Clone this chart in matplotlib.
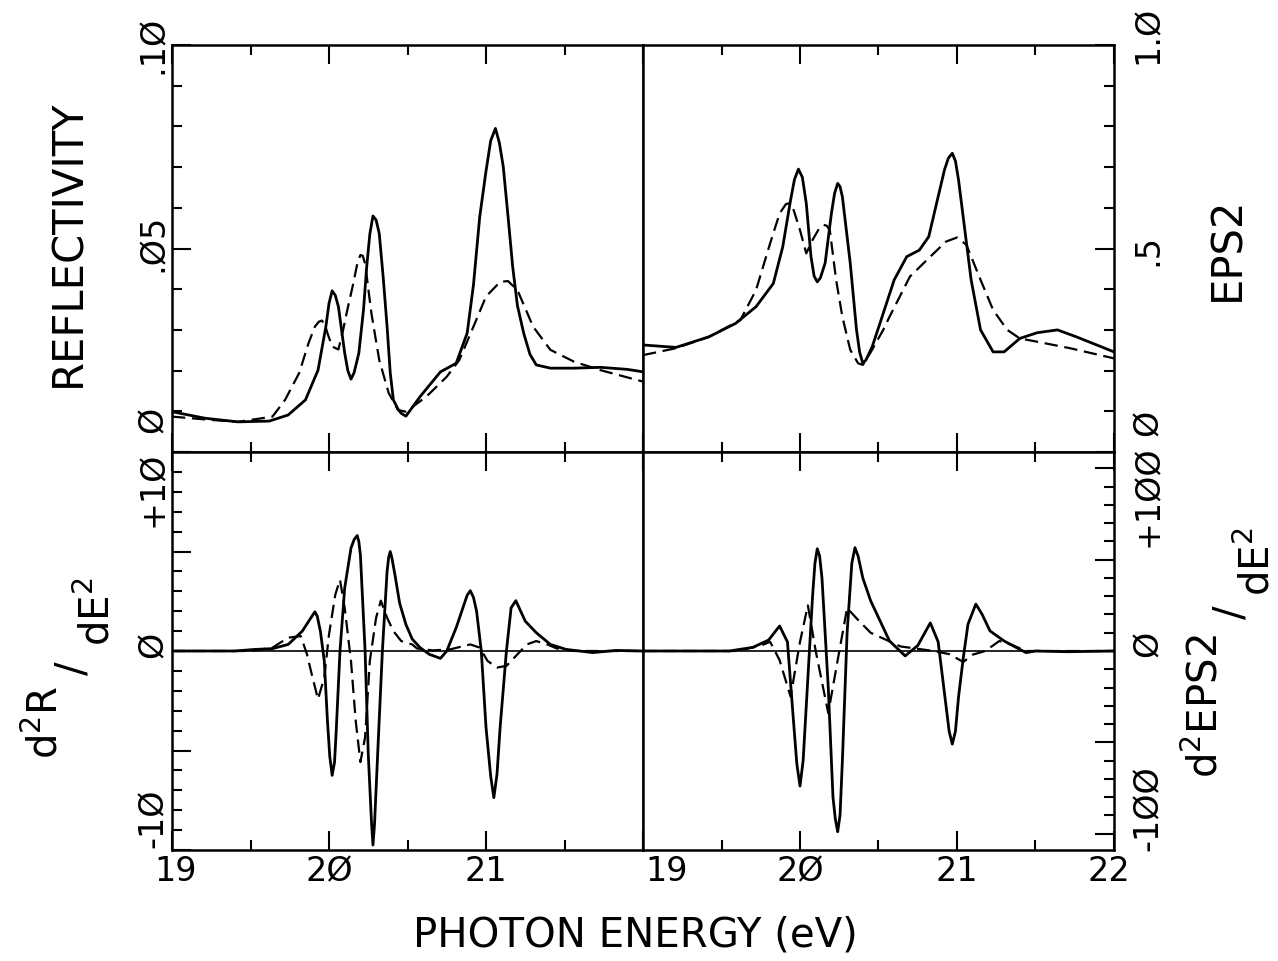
import matplotlib.pyplot as plt
from matplotlib.ticker import MultipleLocator

plt.rcParams['font.family'] = ['DejaVu Sans']
plt.rcParams['mathtext.fontset'] = 'dejavusans'

# reflectivity, solid and dashed curves (eV, R)
r_solid_e = [19.00, 19.21, 19.42, 19.62, 19.74, 19.85, 19.93, 19.98, 20.00, 20.02, 20.04, 20.06,
             20.08, 20.10, 20.12, 20.14, 20.16, 20.19, 20.22, 20.24, 20.26, 20.28, 20.30, 20.32,
             20.345, 20.37, 20.39, 20.41, 20.44, 20.46, 20.49, 20.58, 20.71, 20.81, 20.88, 20.92,
             20.96, 21.00, 21.03, 21.06, 21.085, 21.11, 21.14, 21.17, 21.20, 21.24, 21.28, 21.32,
             21.41, 21.56, 21.73, 21.90, 22.00]
r_solid = [0.0099, 0.0083, 0.0074, 0.0076, 0.0091, 0.0128, 0.0201, 0.0308, 0.0365, 0.0396, 0.0385,
           0.0357, 0.0300, 0.0243, 0.0200, 0.0179, 0.0195, 0.0243, 0.0350, 0.0455, 0.0535, 0.0580,
           0.0570, 0.0537, 0.0430, 0.0308, 0.0195, 0.0128, 0.0105, 0.0095, 0.0088, 0.0136, 0.0197,
           0.0218, 0.0292, 0.0410, 0.0578, 0.0690, 0.0765, 0.0795, 0.0760, 0.0701, 0.0580, 0.0455,
           0.0360, 0.0292, 0.0240, 0.0214, 0.0206, 0.0206, 0.0208, 0.0203, 0.0197]
r_dash_e = [19.00, 19.21, 19.42, 19.64, 19.72, 19.81, 19.87, 19.91, 19.935, 19.955, 19.975, 19.99,
            20.02, 20.06, 20.09, 20.12, 20.15, 20.18, 20.20, 20.215, 20.23, 20.27, 20.32, 20.38,
            20.44, 20.49, 20.62, 20.75, 20.83, 20.92, 21.00, 21.09, 21.14, 21.20, 21.30, 21.41,
            21.56, 21.73, 22.00]
r_dash = [0.0087, 0.0080, 0.0074, 0.0087, 0.0128, 0.0194, 0.0268, 0.0308, 0.0320, 0.0323, 0.0312,
          0.0292, 0.0259, 0.0252, 0.0300, 0.0355, 0.0406, 0.0462, 0.0484, 0.0482, 0.0463, 0.0341,
          0.0226, 0.0145, 0.0103, 0.0099, 0.0136, 0.0185, 0.0226, 0.0308, 0.0382, 0.0418, 0.0420,
          0.0398, 0.0308, 0.0251, 0.0222, 0.0201, 0.0173]

# EPS2, solid and dashed
e_solid_e = [19.00, 19.21, 19.42, 19.59, 19.72, 19.83, 19.89, 19.94, 19.965, 19.99, 20.015, 20.04,
             20.07, 20.09, 20.11, 20.13, 20.16, 20.20, 20.22, 20.24, 20.255, 20.27, 20.32, 20.36,
             20.38, 20.40, 20.42, 20.46, 20.51, 20.60, 20.68, 20.76, 20.82, 20.87, 20.92, 20.945,
             20.97, 20.99, 21.01, 21.05, 21.09, 21.15, 21.23, 21.30, 21.40, 21.51, 21.64, 21.76,
             21.89, 22.00]
e_solid = [0.263, 0.257, 0.283, 0.316, 0.357, 0.414, 0.504, 0.619, 0.670, 0.695, 0.675, 0.611,
           0.480, 0.432, 0.418, 0.428, 0.464, 0.586, 0.635, 0.660, 0.652, 0.627, 0.464, 0.300,
           0.245, 0.218, 0.226, 0.259, 0.317, 0.423, 0.480, 0.496, 0.529, 0.611, 0.693, 0.722,
           0.734, 0.715, 0.668, 0.545, 0.423, 0.300, 0.246, 0.246, 0.279, 0.293, 0.300, 0.283,
           0.263, 0.246]
e_dash_e = [19.00, 19.21, 19.42, 19.62, 19.72, 19.81, 19.87, 19.91, 19.93, 19.955, 20.00, 20.04,
            20.08, 20.12, 20.15, 20.17, 20.19, 20.23, 20.27, 20.32, 20.37, 20.40, 20.45, 20.53,
            20.57, 20.70, 20.83, 20.93, 21.00, 21.06, 21.15, 21.23, 21.32, 21.40, 21.51, 21.72,
            22.00]
e_dash = [0.238, 0.255, 0.283, 0.324, 0.398, 0.513, 0.586, 0.609, 0.611, 0.600, 0.545, 0.488,
          0.521, 0.548, 0.558, 0.556, 0.545, 0.423, 0.332, 0.251, 0.218, 0.214, 0.245, 0.300,
          0.332, 0.431, 0.480, 0.517, 0.527, 0.509, 0.423, 0.349, 0.300, 0.279, 0.271, 0.255,
          0.230]

# second derivative of R
dr_solid_e = [19.00, 19.40, 19.53, 19.64, 19.74, 19.83, 19.90, 19.91, 19.925, 19.945, 19.97, 19.99,
              20.005, 20.02, 20.035, 20.045, 20.07, 20.10, 20.14, 20.16, 20.18, 20.19, 20.20, 20.23,
              20.25, 20.27, 20.28, 20.29, 20.31, 20.34, 20.37, 20.38, 20.39, 20.40, 20.42, 20.45,
              20.49, 20.53, 20.58, 20.64, 20.71, 20.75, 20.81, 20.88, 20.90, 20.92, 20.94, 20.97,
              21.00, 21.03, 21.05, 21.07, 21.09, 21.13, 21.16, 21.19, 21.25, 21.32, 21.41, 21.51,
              21.68, 21.83, 22.00]
dr_solid = [0, 0, 0.08, 0.12, 0.33, 1.0, 1.85, 1.97, 1.75, 1.0, -0.5, -3.5, -5.3, -6.25, -5.6,
            -4.17, 0, 3.17, 5.17, 5.6, 5.8, 5.5, 4.83, 0, -5.17, -8.5, -9.75, -8.7, -5.17, 0, 4.0,
            4.7, 5.0, 4.7, 3.83, 2.4, 1.33, 0.6, 0.17, -0.17, -0.37, 0, 1.17, 2.8, 3.03, 2.7, 2.0,
            0, -3.83, -6.3, -7.37, -6.2, -3.83, 0, 2.17, 2.53, 1.5, 0.92, 0.33, 0.08, -0.08, 0.03,
            0]
dr_dash_e = [19.00, 19.50, 19.64, 19.74, 19.82, 19.86, 19.89, 19.93, 19.97, 20.00, 20.04, 20.07,
             20.10, 20.14, 20.17, 20.20, 20.23, 20.26, 20.30, 20.33, 20.37, 20.41, 20.46, 20.53,
             20.56, 20.66, 20.77, 20.90, 20.96, 21.01, 21.07, 21.13, 21.20, 21.26, 21.32, 21.39,
             21.45, 21.56, 22.00]
dr_dash = [0, 0, 0.17, 0.67, 0.75, -0.17, -1.17, -2.42, -1.33, 0.83, 2.83, 3.58, 2.17, -0.5, -3.5,
           -5.58, -4.33, -0.5, 1.67, 2.53, 1.67, 1.0, 0.5, 0.33, 0.13, 0.03, 0.08, 0.33, 0.17, -0.5,
           -0.83, -0.75, -0.17, 0.33, 0.5, 0.33, 0.13, 0, 0]

# second derivative of EPS2
de_solid_e = [19.00, 19.55, 19.70, 19.80, 19.87, 19.92, 19.96, 19.98, 20.00, 20.02, 20.04, 20.08,
              20.095, 20.11, 20.125, 20.14, 20.18, 20.21, 20.225, 20.24, 20.255, 20.27, 20.30,
              20.33, 20.35, 20.37, 20.40, 20.45, 20.57, 20.67, 20.75, 20.83, 20.88, 20.93, 20.95,
              20.97, 20.99, 21.01, 21.04, 21.07, 21.12, 21.16, 21.21, 21.30, 21.38, 21.44, 21.50,
              21.70, 22.00]
de_solid = [0, 0, 2, 6, 13.7, 5, -40, -62, -74, -60, -30, 30, 48, 56, 52, 40, -20, -80, -92, -99,
            -90, -60, 10, 48, 56.6, 52, 40, 27.5, 5.5, -2.7, 3, 15.4, 5, -30, -44, -51, -44, -25,
            -3.7, 14.7, 25.7, 20.1, 11, 5.5, 1.8, -0.9, 0, -0.4, 0]
de_dash_e = [19.00, 19.60, 19.75, 19.81, 19.87, 19.94, 20.00, 20.05, 20.10, 20.18, 20.24, 20.30,
             20.37, 20.45, 20.64, 20.85, 20.95, 21.04, 21.10, 21.18, 21.27, 21.35, 21.44, 21.60,
             22.00]
de_dash = [0, 0, 3, 5, -5, -25, 5, 25, 0, -34, -5, 23.5, 17, 10, 2.5, 0, -1.7, -6, -2, 0, 5.5, 3.3,
           0, 0, 0]

W, H = 1278, 961
fig = plt.figure(figsize=(W / 100, H / 100), dpi=100)


def box(x0, y0, x1, y1):
    return [x0 / W, 1 - y1 / H, (x1 - x0) / W, (y1 - y0) / H]


ax_r = fig.add_axes(box(172, 45, 643, 452))
ax_e = fig.add_axes(box(643, 45, 1114, 452))
ax_dr = fig.add_axes(box(172, 452, 643, 850))
ax_de = fig.add_axes(box(643, 452, 1114, 850))

solid = dict(color='black', lw=2.0)
dash = dict(color='black', lw=1.6, linestyle=(0, (6, 3)))

ax_r.plot(r_solid_e, r_solid, **solid)
ax_r.plot(r_dash_e, r_dash, **dash)
ax_e.plot(e_solid_e, e_solid, **solid)
ax_e.plot(e_dash_e, e_dash, **dash)
ax_dr.plot(dr_solid_e, dr_solid, **solid)
ax_dr.plot(dr_dash_e, dr_dash, **dash)
ax_de.plot(de_solid_e, de_solid, **solid)
ax_de.plot(de_dash_e, de_dash, **dash)
for ax in (ax_dr, ax_de):
    ax.axhline(0, color='black', lw=1.2)

ax_r.set_ylim(0, 0.1)
ax_e.set_ylim(0, 1.0)
ax_dr.set_ylim(-10, 10)
ax_de.set_ylim(-109, 109)

yticks = {ax_r: (0.05, 0.01), ax_e: (0.5, 0.1), ax_dr: (5, 1), ax_de: (50, 10)}
for ax, (maj, mnr) in yticks.items():
    ax.set_xlim(19, 22)
    ax.xaxis.set_major_locator(MultipleLocator(1))
    ax.xaxis.set_minor_locator(MultipleLocator(0.5))
    ax.yaxis.set_major_locator(MultipleLocator(maj))
    ax.yaxis.set_minor_locator(MultipleLocator(mnr))
    ax.tick_params(which='both', direction='in', width=1.5, top=True, bottom=True,
                   labelbottom=False, labelleft=False, labelright=False)
    ax.tick_params(which='major', length=14)
    ax.tick_params(which='minor', length=7)
    for s in ax.spines.values():
        s.set_linewidth(1.8)

for ax in (ax_r, ax_dr):
    ax.tick_params(axis='y', which='both', left=True, right=False)
for ax in (ax_e, ax_de):
    ax.tick_params(axis='y', which='both', left=False, right=True)

lab = dict(fontsize=24, rotation=90, ha='center', va='center')

# y tick labels
for ax, vals, texts, xpos in [
        (ax_r, [0.1, 0.0515, 0.008], ['.1Ø', '.Ø5', 'Ø'], -0.04),
        (ax_dr, [8.15, 0.3, -8.4], ['+1Ø', 'Ø', '-1Ø'], -0.04),
        (ax_e, [1.025, 0.496, 0.071], ['1.Ø', '.5', 'Ø'], 1.072),
        (ax_de, [85, 4, -86], ['+1ØØ', 'Ø', '-1ØØ'], 1.072)]:
    for v, t in zip(vals, texts):
        ax.text(xpos, v, t, transform=ax.get_yaxis_transform(), **lab)

# x tick labels
for ax, vals, texts in [
        (ax_dr, [19.02, 20, 21], ['19', '2Ø', '21']),
        (ax_de, [19.15, 20, 21, 21.97], ['19', '2Ø', '21', '22'])]:
    for v, t in zip(vals, texts):
        ax.text(v, -0.055, t, transform=ax.get_xaxis_transform(),
                fontsize=24, ha='center', va='center')

ax_r.text(-0.221, 0.514, 'REFLECTIVITY', transform=ax_r.transAxes, fontsize=30,
          rotation=90, ha='center', va='center')
ax_e.text(1.240, 0.50, 'EPS2', transform=ax_e.transAxes, fontsize=30,
          rotation=90, ha='center', va='center')

frac = dict(fontsize=29, rotation=90, rotation_mode='anchor', ha='center', va='baseline')
fig.text(57 / W, 1 - 722 / H, r'd$^{2}$R', **frac)
fig.text(84 / W, 1 - 668 / H, '/', **frac)
fig.text(109 / W, 1 - 612 / H, r'dE$^{2}$', **frac)
fig.text(1217 / W, 1 - 706 / H, r'd$^{2}$EPS2', **frac)
fig.text(1242 / W, 1 - 612 / H, '/', **frac)
fig.text(1270 / W, 1 - 562 / H, r'dE$^{2}$', **frac)

fig.text(635 / W, 1 - 935 / H, 'PHOTON ENERGY (eV)', fontsize=29, ha='center', va='center')

fig.savefig('out.png', dpi=100)
